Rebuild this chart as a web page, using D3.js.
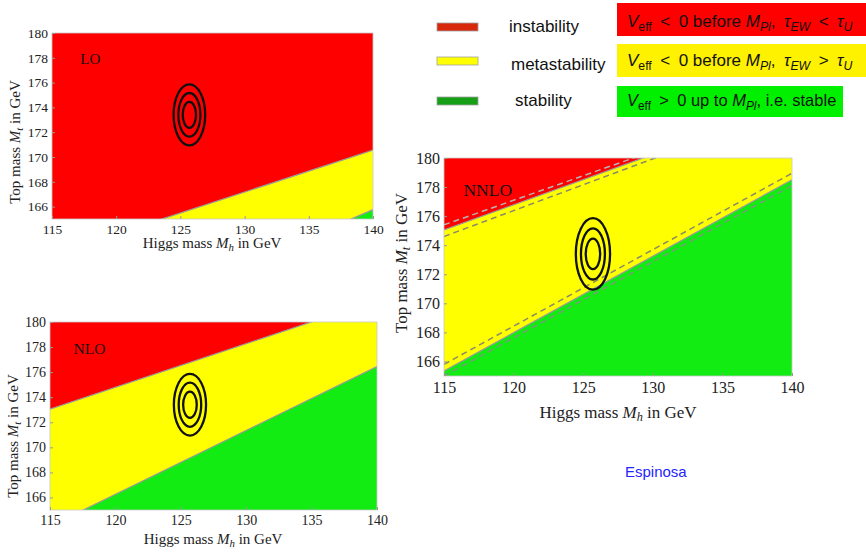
<!DOCTYPE html>
<html><head><meta charset="utf-8">
<script src="https://cdn.jsdelivr.net/npm/d3@7"></script>
<style>body{margin:0;background:#fff}svg{display:block}</style>
</head><body>
<svg id="c" width="866" height="552"></svg>
<script>
// ---------- data ----------
const mhTicks = [115, 120, 125, 130, 135, 140];
const mtTicks = [166, 168, 170, 172, 174, 176, 178, 180];
const mhDomain = [115, 140];
const mtDomain = [165, 180];
const bestFit = [125.7, 173.4];                       // [Mh, Mt]
const ellipseHalfWidths = [[0.52, 1.05], [0.86, 1.76], [1.23, 2.46]]; // [dMh, dMt]
const loInstability = [[115, 162.1], [140, 170.55]];
const loStability = [[115, 154.7], [140, 165.75]];
const nloInstability = [[115, 173.05], [140, 181.75]];
const nloStability = [[115, 163.7], [140, 176.45]];
const nnloInstability = [[115, 175.05], [140, 183.7]];
const nnloInstabilityBand = [[[115, 175.4], [140, 183.85]], [[115, 174.6], [140, 183.5]]];
const nnloStability = [[115, 165.35], [140, 178.5]];
const nnloStabilityBand = [[[115, 165.8], [140, 178.95]], [[115, 165.0], [140, 178.1]]];
const panelLabels = ["LO", "NLO", "NNLO"];
const legendLabels = ["instability", "metastability", "stability"];
const credit = "Espinosa";

// ---------- styles ----------
const C = {red: "#fe0000", yellow: "#ffff00", green: "#12ec12", edge: "#9a9a9a"};
const serif = "'Liberation Serif','Times New Roman',serif";
const sans = "'Liberation Sans',Arial,sans-serif";

const svg = d3.select("#c");

const panels = [
  {name: panelLabels[0], box: [52, 373, 33, 219], inst: loInstability, stab: loStability, bands: [],
   tick: 13.5, pad: 5, title: 15, lab: [117.2, 177.9], xt: [212, 248], yt: [15, 142]},
  {name: panelLabels[1], box: [50, 377, 322, 510], inst: nloInstability, stab: nloStability, bands: [],
   tick: 14, pad: 5, title: 15, lab: [116.8, 177.9], xt: [213, 544], yt: [13, 436]},
  {name: panelLabels[2], box: [444, 792, 158, 376], inst: nnloInstability, stab: nnloStability,
   bands: [[nnloInstabilityBand[0], "#b4b4b4"], [nnloInstabilityBand[1], "#8a8a6a"],
           [nnloStabilityBand[0], "#8a8a6a"], [nnloStabilityBand[1], "#7a9a7a"]],
   tick: 16, pad: 6, title: 17, lab: [116.4, 177.8], xt: [618, 418], yt: [401, 263]}
];

function rich(sel, parts, fs, shift) {
  const s = shift || 0.25;
  parts.forEach(p => {
    const ts = sel.append("tspan").text(p.t);
    if (p.i) ts.attr("font-style", "italic");
    if (p.sub) { ts.attr("font-size", fs * 0.72).attr("dy", fs * s); }
    if (p.back) ts.attr("dy", -fs * s);
  });
}

panels.forEach((P, idx) => {
  const [x0, x1, y0, y1] = P.box;
  const x = d3.scaleLinear().domain(mhDomain).range([x0, x1]);
  const y = d3.scaleLinear().domain(mtDomain).range([y1, y0]);
  const g = svg.append("g");
  const cid = "clip" + idx;
  g.append("clipPath").attr("id", cid).append("rect")
    .attr("x", x0).attr("y", y0).attr("width", x1 - x0).attr("height", y1 - y0);
  const area = g.append("g").attr("clip-path", `url(#${cid})`);
  const line = d3.line().x(d => x(d[0])).y(d => y(d[1]));
  const below = pts => pts.concat([[mhDomain[1], mtDomain[0] - 20], [mhDomain[0], mtDomain[0] - 20]]);

  area.append("rect").attr("x", x0).attr("y", y0).attr("width", x1 - x0).attr("height", y1 - y0).attr("fill", C.red);
  area.append("path").attr("d", line(below(P.inst)) + "Z").attr("fill", C.yellow);
  area.append("path").attr("d", line(below(P.stab)) + "Z").attr("fill", C.green);
  [P.inst, P.stab].forEach(b => area.append("path").attr("d", line(b))
    .attr("fill", "none").attr("stroke", C.edge).attr("stroke-width", 1.3));
  P.bands.forEach(([b, col]) => area.append("path").attr("d", line(b))
    .attr("fill", "none").attr("stroke", col).attr("stroke-width", 1.5).attr("stroke-dasharray", "6,4"));

  // contours
  ellipseHalfWidths.forEach(([dx, dy]) => {
    g.append("ellipse")
      .attr("cx", x(bestFit[0])).attr("cy", y(bestFit[1]))
      .attr("rx", x(bestFit[0] + dx) - x(bestFit[0]))
      .attr("ry", y(bestFit[1]) - y(bestFit[1] + dy))
      .attr("fill", "none").attr("stroke", "#111").attr("stroke-width", 2.3);
  });

  // frame
  g.append("rect").attr("x", x0).attr("y", y0).attr("width", x1 - x0).attr("height", y1 - y0)
    .attr("fill", "none").attr("stroke", "#c8c8c8").attr("stroke-width", 0.8);

  // axes
  const ax = g.append("g").attr("transform", `translate(0,${y1})`)
    .call(d3.axisBottom(x).tickValues(mhTicks).tickFormat(d3.format("d")).tickSize(-3).tickPadding(P.pad));
  const ay = g.append("g").attr("transform", `translate(${x0},0)`)
    .call(d3.axisLeft(y).tickValues(mtTicks).tickFormat(d3.format("d")).tickSize(-3).tickPadding(4));
  [ax, ay].forEach(a => {
    a.select(".domain").remove();
    a.selectAll(".tick line").attr("stroke", "#999");
    a.selectAll("text").attr("font-family", serif).attr("font-size", P.tick).attr("fill", "#222");
  });

  // panel label
  g.append("text").attr("x", x(P.lab[0])).attr("y", y(P.lab[1])).attr("dy", "0.35em")
    .attr("font-family", serif).attr("font-size", P.tick + 1.5).attr("fill", "#111").text(P.name);

  // axis titles
  const xt = g.append("text").attr("x", P.xt[0]).attr("y", P.xt[1]).attr("text-anchor", "middle")
    .attr("font-family", serif).attr("font-size", P.title).attr("fill", "#222");
  rich(xt, [{t: "Higgs mass "}, {t: "M", i: 1}, {t: "h", i: 1, sub: 1}, {t: " in GeV", back: 1}], P.title, 0.18);
  const yt = g.append("text").attr("transform", `translate(${P.yt[0]},${P.yt[1]}) rotate(-90)`)
    .attr("text-anchor", "middle").attr("dy", "0.35em")
    .attr("font-family", serif).attr("font-size", P.title).attr("fill", "#222");
  rich(yt, [{t: "Top mass "}, {t: "M", i: 1}, {t: "t", i: 1, sub: 1}, {t: " in GeV", back: 1}], P.title, 0.18);
});

// ---------- legend ----------
const swatch = ["#d8280c", "#ffff00", "#179f17"];
const swY = [23, 57, 97];
const labX = [509, 511, 515];
const labY = [32, 70, 106];
legendLabels.forEach((l, i) => {
  svg.append("rect").attr("x", 437).attr("y", swY[i]).attr("width", 41).attr("height", 8)
    .attr("fill", swatch[i]).attr("stroke", "#a0a0a0").attr("stroke-width", 0.8);
  svg.append("text").attr("x", labX[i]).attr("y", labY[i]).attr("font-family", sans)
    .attr("font-size", 17).attr("fill", "#111").text(l);
});

const boxes = [
  {fill: "#ff0000", y: 3, h: 33, w: 249, base: 27, fs: 17,
   parts: [{t: "V", i: 1}, {t: "eff", sub: 1}, {t: "\u2002<\u20020 before ", back: 1}, {t: "M", i: 1}, {t: "Pl", i: 1, sub: 1},
           {t: ",\u2002", back: 1}, {t: "\u03c4", i: 1}, {t: "EW", i: 1, sub: 1}, {t: "\u2002<\u2002", back: 1}, {t: "\u03c4", i: 1}, {t: "U", i: 1, sub: 1}]},
  {fill: "#fff200", y: 44, h: 33, w: 249, base: 66, fs: 17,
   parts: [{t: "V", i: 1}, {t: "eff", sub: 1}, {t: "\u2002<\u20020 before ", back: 1}, {t: "M", i: 1}, {t: "Pl", i: 1, sub: 1},
           {t: ",\u2002", back: 1}, {t: "\u03c4", i: 1}, {t: "EW", i: 1, sub: 1}, {t: "\u2002>\u2002", back: 1}, {t: "\u03c4", i: 1}, {t: "U", i: 1, sub: 1}]},
  {fill: "#00f000", y: 86, h: 31, w: 226, base: 106, fs: 16.5,
   parts: [{t: "V", i: 1}, {t: "eff", sub: 1}, {t: "\u2002>\u20020 up to ", back: 1}, {t: "M", i: 1}, {t: "Pl", i: 1, sub: 1},
           {t: ", i.e. stable", back: 1}]}
];
boxes.forEach(b => {
  svg.append("rect").attr("x", 617).attr("y", b.y).attr("width", b.w).attr("height", b.h).attr("fill", b.fill);
  const t = svg.append("text").attr("x", 627).attr("y", b.base).attr("font-family", sans)
    .attr("font-size", b.fs).attr("fill", "#111");
  rich(t, b.parts, b.fs, 0.25);
});

svg.append("text").attr("x", 625).attr("y", 477).attr("font-family", sans).attr("font-size", 15)
  .attr("fill", "#2424ff").text(credit);
</script>
</body></html>
